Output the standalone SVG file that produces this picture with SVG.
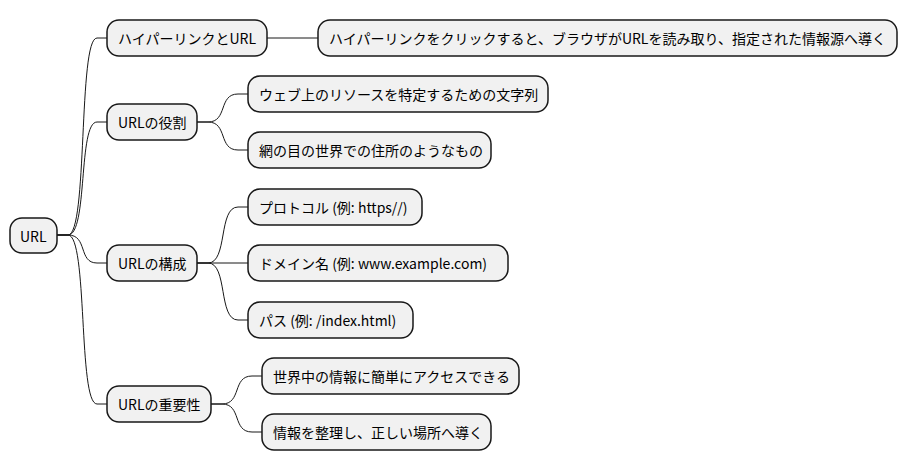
<svg xmlns="http://www.w3.org/2000/svg" width="908" height="471" viewBox="0 0 908 471">
<style>
.n rect{fill:#f1f1f1;stroke:#181818;stroke-width:1.5}
.n text{font-family:"Noto Sans CJK JP","Noto Sans",sans-serif;font-size:14px;fill:#000;dominant-baseline:central}
#c path{fill:none;stroke:#181818;stroke-width:1}
</style>
<rect width="908" height="471" fill="#fff"/>
<g id="c">
<path d="M57,235 H68 C88,235 78,38 97,38 H107"/>
<path d="M57,235 H68 C88,235 78,122 97,122 H107"/>
<path d="M57,235 H68 C88,235 78,263 97,263 H107"/>
<path d="M57,235 H68 C88,235 78,404 97,404 H107"/>
<path d="M267,38 H318"/>
<path d="M197,122 H208 C228,122 218,94 238,94 H248"/>
<path d="M197,122 H208 C228,122 218,150 238,150 H248"/>
<path d="M197,263 H208 C228,263 218,207 238,207 H248"/>
<path d="M197,263 H248"/>
<path d="M197,263 H208 C228,263 218,320 238,320 H248"/>
<path d="M211,404 H222 C242,404 232,376 252,376 H262"/>
<path d="M211,404 H222 C242,404 232,432 252,432 H262"/>
</g>
<g id="n0" class="n"><rect x="10" y="218" width="47" height="35" rx="12"/><text x="20" y="235.5">URL</text></g>
<g id="n1" class="n"><rect x="107" y="20" width="160" height="36" rx="12"/><text x="118" y="38">ハイパーリンクとURL</text></g>
<g id="n1a" class="n"><rect x="318" y="20" width="579" height="36" rx="12"/><text x="329" y="38">ハイパーリンクをクリックすると、ブラウザがURLを読み取り、指定された情報源へ導く</text></g>
<g id="n2" class="n"><rect x="107" y="104" width="90" height="36" rx="12"/><text x="118" y="122">URLの役割</text></g>
<g id="n2a" class="n"><rect x="248" y="76" width="300" height="36" rx="12"/><text x="259" y="94">ウェブ上のリソースを特定するための文字列</text></g>
<g id="n2b" class="n"><rect x="248" y="132" width="243" height="36" rx="12"/><text x="259" y="150">網の目の世界での住所のようなもの</text></g>
<g id="n3" class="n"><rect x="107" y="245" width="90" height="36" rx="12"/><text x="118" y="263">URLの構成</text></g>
<g id="n3a" class="n"><rect x="248" y="189" width="174" height="36" rx="12"/><text x="259" y="207">プロトコル (例: https//)</text></g>
<g id="n3b" class="n"><rect x="248" y="245" width="260" height="36" rx="12"/><text x="259" y="263">ドメイン名 (例: www.example.com)</text></g>
<g id="n3c" class="n"><rect x="248" y="302" width="165" height="36" rx="12"/><text x="259" y="320">パス (例: /index.html)</text></g>
<g id="n4" class="n"><rect x="107" y="386" width="104" height="36" rx="12"/><text x="118" y="404">URLの重要性</text></g>
<g id="n4a" class="n"><rect x="262" y="358" width="257" height="36" rx="12"/><text x="273" y="376">世界中の情報に簡単にアクセスできる</text></g>
<g id="n4b" class="n"><rect x="262" y="414" width="229" height="36" rx="12"/><text x="273" y="432">情報を整理し、正しい場所へ導く</text></g>
</svg>
